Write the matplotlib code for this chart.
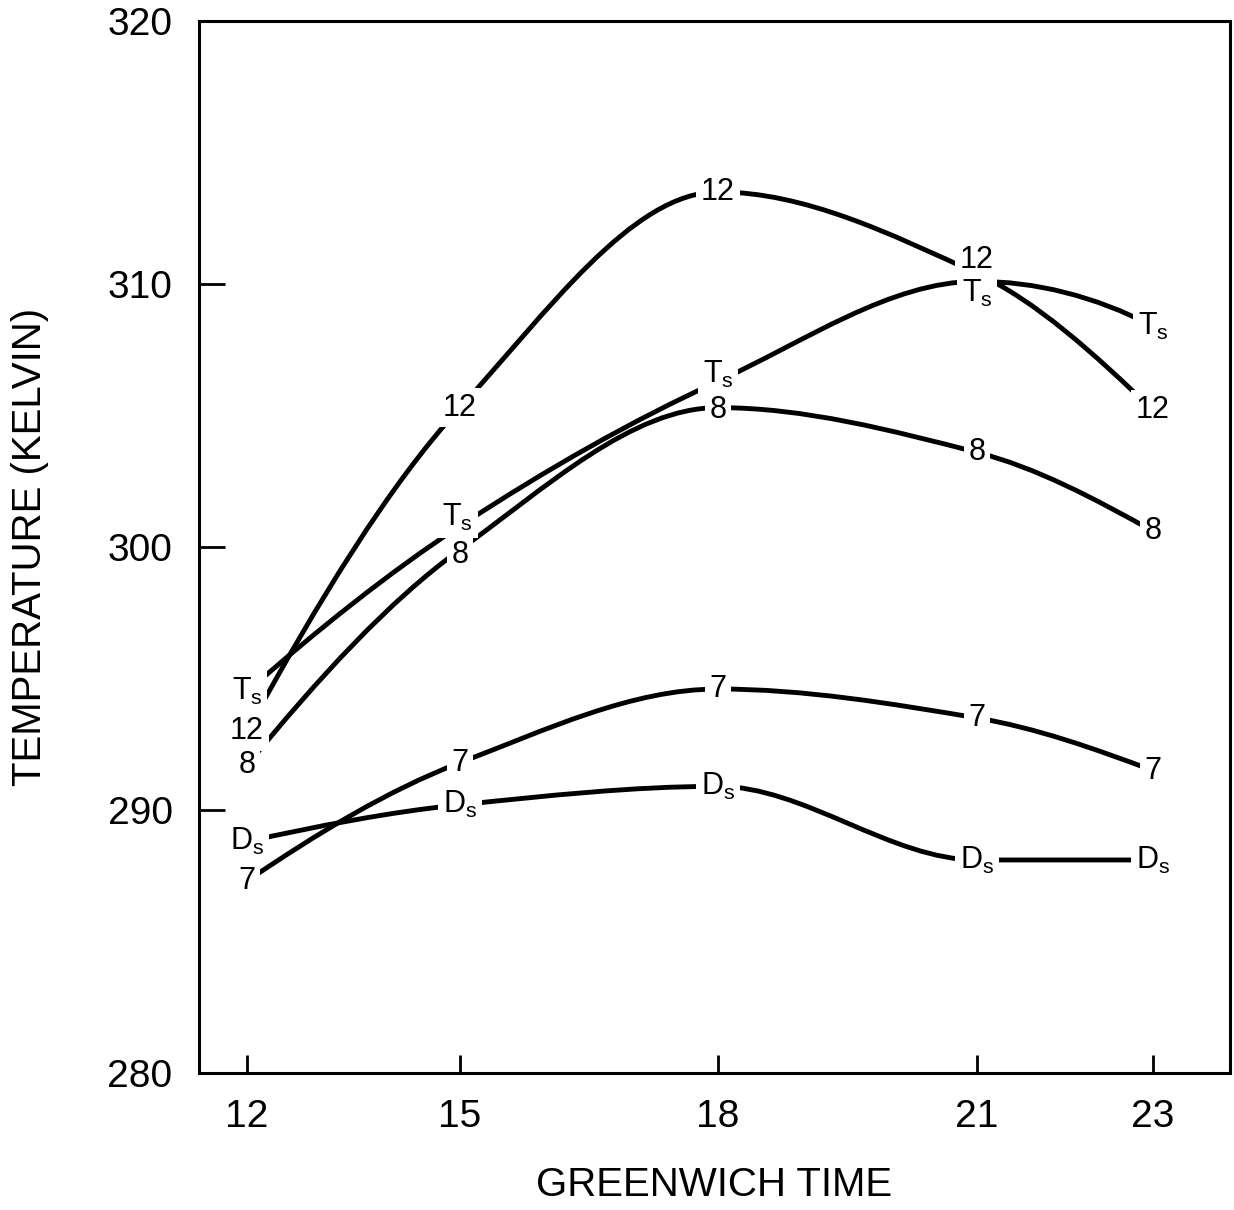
import numpy as np
import matplotlib
matplotlib.use("Agg")
import matplotlib.pyplot as plt
from matplotlib.path import Path
from matplotlib.patches import PathPatch

plt.rcParams["font.family"] = ["Liberation Sans", "DejaVu Sans"]
plt.rcParams["mathtext.default"] = "regular"

# ---- data ----
HOURS = [12, 15, 18, 21, 23]
T_S = [294.5, 300.8, 306.3, 310.1, 308.4]
LEVEL_12 = [293.0, 305.3, 313.5, 310.4, 305.2]
LEVEL_8 = [291.7, 299.9, 305.3, 303.6, 300.6]
LEVEL_7 = [287.3, 291.8, 294.6, 293.5, 291.5]
D_S = [288.8, 290.2, 290.9, 288.1, 288.1]

TS = r"T$_\mathregular{s}$"
DS = r"D$_\mathregular{s}$"
SERIES = [
    (TS, T_S),
    ("12", LEVEL_12),
    ("8", LEVEL_8),
    ("7", LEVEL_7),
    (DS, D_S),
]

# the hand-drawn time axis is not evenly spaced: map hours -> pixel columns
HK = [11, 12, 15, 18, 21, 23, 24]
PK = [176, 247, 460, 718, 977, 1153, 1241]


def fwd(h):
    return np.interp(h, HK, PK)


def inv(p):
    return np.interp(p, PK, HK)


# nudge labels where two curves meet (points)
LABEL_SHIFT = {
    ("12", 21): (0, 10), (TS, 21): (0, -9),
    (TS, 15): (-2, 6), ("8", 15): (0, -4),
    (TS, 18): (0, 5), ("8", 18): (0, -2),
}


def tangents(x, y):
    """Monotone (Fritsch-Carlson) slopes, flat at local extremes."""
    h = np.diff(x)
    d = np.diff(y) / h
    n = len(x)
    m = np.zeros(n)
    for k in range(1, n - 1):
        if d[k - 1] * d[k] > 0:
            w1 = 2 * h[k] + h[k - 1]
            w2 = h[k] + 2 * h[k - 1]
            m[k] = (w1 + w2) / (w1 / d[k - 1] + w2 / d[k])
    for k, (a, b, ha, hb) in ((0, (d[0], d[1], h[0], h[1])),
                              (n - 1, (d[-1], d[-2], h[-1], h[-2]))):
        s = ((2 * ha + hb) * a - ha * b) / (ha + hb)
        if np.sign(s) != np.sign(a):
            s = 0
        elif np.sign(a) != np.sign(b) and abs(s) > abs(3 * a):
            s = 3 * a
        m[k] = s
    return m


def smooth_path(xs, ys):
    px = fwd(np.asarray(xs, float))
    py = np.asarray(ys, float)
    m = tangents(px, py)
    verts = [(xs[0], ys[0])]
    codes = [Path.MOVETO]
    for i in range(len(px) - 1):
        h = (px[i + 1] - px[i]) / 3
        verts += [(inv(px[i] + h), py[i] + h * m[i]),
                  (inv(px[i + 1] - h), py[i + 1] - h * m[i + 1]),
                  (xs[i + 1], ys[i + 1])]
        codes += [Path.CURVE4] * 3
    return Path(verts, codes)


fig = plt.figure(figsize=(12.34, 12.10), dpi=100)
ax = fig.add_axes([199 / 1234, 1 - 1073 / 1210, (1230 - 199) / 1234, (1073 - 21) / 1210])
ax.set_xscale("function", functions=(fwd, inv))
ax.set_xlim(inv(199), inv(1230))
ax.set_ylim(280, 320)

for name, vals in SERIES:
    ax.add_patch(PathPatch(smooth_path(HOURS, vals), fc="none", ec="black",
                           lw=3.5, capstyle="round", zorder=2))
    for h, v in zip(HOURS, vals):
        dx, dy = LABEL_SHIFT.get((name, h), (0, 0))
        ax.annotate(name, (h, v), xytext=(dx, dy), textcoords="offset points",
                    ha="center", va="center", fontsize=22, zorder=4,
                    bbox=dict(fc="white", ec="none", pad=3.5))

ax.set_xticks(HOURS)
ax.set_xticklabels([str(h) for h in HOURS])
ax.set_yticks([280, 290, 300, 310, 320])
ax.tick_params(axis="both", direction="in", width=2, labelsize=28)
ax.tick_params(axis="y", length=19, pad=19)
ax.tick_params(axis="x", length=13, pad=19)
ax.minorticks_off()
for sp in ax.spines.values():
    sp.set_linewidth(2.2)

ax.set_xlabel("GREENWICH TIME", fontsize=29, labelpad=22)
ax.set_ylabel("TEMPERATURE (KELVIN)", fontsize=29, labelpad=42)

fig.savefig("out.png", dpi=100)
plt.close(fig)
